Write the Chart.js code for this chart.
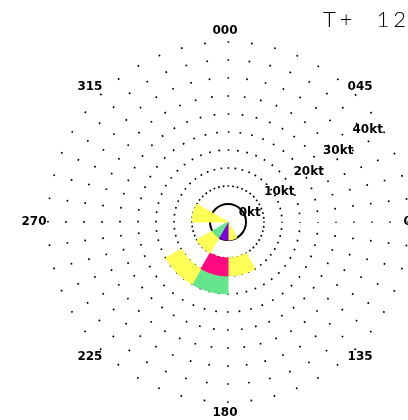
<!DOCTYPE html>
<html>
<head>
<meta charset="utf-8">
<title>Wind rose T+12</title>
<script src="https://cdn.jsdelivr.net/npm/chart.js@4.4.1/dist/chart.umd.min.js"></script>
<style>
  body { margin: 0; background: #fff; }
</style>
</head>
<body>
<canvas id="rose" width="408" height="420"></canvas>
<script>
// 30 degree direction bins, clockwise from north
const directions = ['000', '030', '060', '090', '120', '150', '180', '210', '240', '270', '300', '330'];

// speed bands in knots, innermost first (the centre band sits inside the 0kt ring)
const bandLow = [-5, 0, 5, 10];
const bandHigh = [0, 5, 10, 15];

// probability class per direction bin, one list per speed band
// 0 none, 1 low, 2 medium, 3 high, 4 highest
const bandCentre = [0, 0, 0, 0, 0, 1, 4, 2, 0, 1, 0, 0];
const band0to5 = [0, 0, 0, 0, 0, 0, 0, 1, 0, 1, 0, 0];
const band5to10 = [0, 0, 0, 0, 0, 1, 3, 0, 0, 0, 0, 0];
const band10to15 = [0, 0, 0, 0, 0, 0, 2, 1, 0, 0, 0, 0];

const classColours = ['rgba(0,0,0,0)', '#ffff55', '#66e68c', '#ff0a80', '#8000dc'];

const bearingLabels = ['000', '045', '090', '135', '180', '225', '270', '315'];
const speedLabels = [0, 10, 20, 30, 40];
const stepLabel = 'T+  12';

const bands = [bandCentre, band0to5, band5to10, band10to15];

const datasets = bands.map((cls, b) => ({
    label: bandLow[b] + '-' + bandHigh[b] + 'kt',
    base: bandLow[b],
    data: cls.map(c => (c ? bandHigh[b] : null)),
    backgroundColor: cls.map(c => classColours[c]),
    borderColor: cls.map(c => classColours[c]),
    borderWidth: 1,
}));

// polar area arcs always start at the centre, so push each band's inner edge out to its low speed
const bandBase = {
    id: 'bandBase',
    afterDatasetUpdate(chart, args) {
        const scale = chart.scales.r;
        const inner = scale.getDistanceFromCenterForValue(chart.data.datasets[args.index].base);
        args.meta.data.forEach(arc => {
            arc.innerRadius = Math.max(inner, 0);
        });
    }
};

// bearing and speed labels, plus the forecast step
const roseText = {
    id: 'roseText',
    afterDraw(chart) {
        const scale = chart.scales.r;
        const ctx = chart.ctx;
        const at = (deg, dist) => {
            const a = (deg - 90) * Math.PI / 180;
            return [scale.xCenter + dist * Math.cos(a), scale.yCenter + dist * Math.sin(a)];
        };
        ctx.save();
        ctx.fillStyle = '#000';
        ctx.textAlign = 'center';
        ctx.textBaseline = 'middle';
        ctx.font = 'bold 12px "DejaVu Sans"';
        bearingLabels.forEach(b => {
            const [x, y] = at(Number(b), scale.drawingArea + 11);
            ctx.fillText(b, x - 3, y);
        });
        speedLabels.forEach(v => {
            const [x, y] = at(55, scale.getDistanceFromCenterForValue(v));
            ctx.fillText(v + 'kt', x + 7, y + 1);
        });
        ctx.font = '300 22px Lato';
        ctx.letterSpacing = '4px';
        ctx.textAlign = 'right';
        ctx.textBaseline = 'alphabetic';
        ctx.fillText(stepLabel, chart.width + 2, 27);
        ctx.restore();
    }
};

const config = {
    type: 'polarArea',
    data: {
        labels: directions,
        datasets: datasets,
    },
    options: {
        responsive: false,
        animation: false,
        events: [],
        layout: { padding: { left: 48, top: 42, right: 0, bottom: 18 } },
        plugins: {
            legend: { display: false },
            tooltip: { enabled: false },
        },
        scales: {
            r: {
                min: -5,
                max: 45,
                startAngle: 0,
                ticks: { display: false, stepSize: 5 },
                pointLabels: { display: false },
                angleLines: { display: false },
                grid: {
                    circular: true,
                    color: c => (c.tick.value < 0 ? 'rgba(0,0,0,0)' : '#000'),
                    lineWidth: c => (c.tick.value === 0 ? 2 : 1.7),
                },
                border: {
                    // 48 dots round every ring
                    dash: c => {
                        if (c.tick.value <= 0) return [];
                        const step = 2 * Math.PI * c.scale.getDistanceFromCenterForValue(c.tick.value) / 48;
                        return [1.7, step - 1.7];
                    },
                    dashOffset: 0.85,
                },
            },
        },
    },
    plugins: [bandBase, roseText],
};

// eslint-disable-next-line
const rose = new Chart(document.getElementById('rose'), config);
</script>
</body>
</html>
